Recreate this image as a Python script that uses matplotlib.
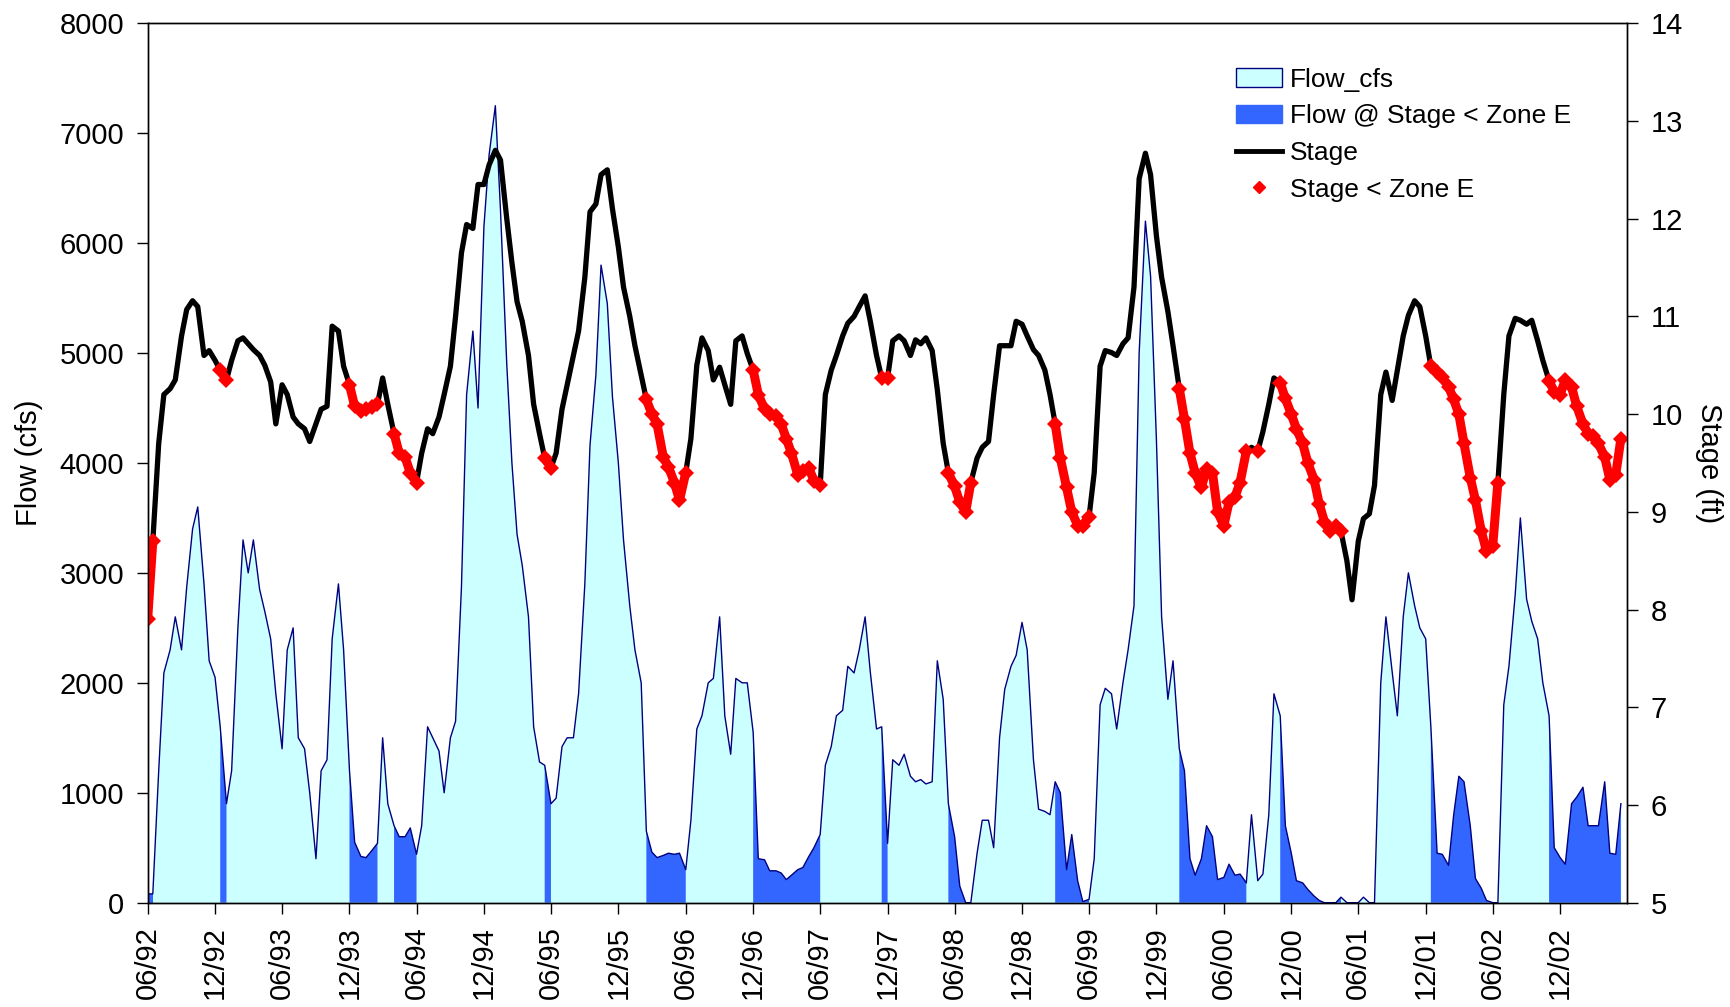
import numpy as np
import pandas as pd
import matplotlib
matplotlib.use("Agg")
import matplotlib.pyplot as plt
import matplotlib.dates as mdates
from matplotlib.patches import Patch
from matplotlib.lines import Line2D

plt.rcParams['font.family'] = ['Liberation Sans', 'DejaVu Sans']

# semi-monthly sampling dates (1st and 15th of each month), Jun 1992 - May 2003
dates = pd.date_range('1992-06-01', periods=264, freq='SMS')

# Flow (cfs), one list per Jun-May year
flow_92 = [80, 80, 1200, 2090, 2300, 2600, 2300, 2870, 3400, 3600, 2900, 2200,
           2050, 1600, 900, 1200, 2500, 3300, 3000, 3300, 2850, 2650, 2400, 1900]
flow_93 = [1400, 2300, 2500, 1500, 1400, 1000, 400, 1200, 1300, 2400, 2900, 2300,
           1200, 550, 420, 410, 480, 540, 1500, 900, 700, 600, 600, 680]
flow_94 = [440, 700, 1600, 1500, 1380, 1000, 1500, 1650, 2870, 4620, 5200, 4500,
           6150, 6800, 7250, 6300, 4900, 4000, 3350, 3070, 2600, 1600, 1280, 1250]
flow_95 = [900, 950, 1420, 1500, 1500, 1900, 2900, 4160, 4800, 5800, 5450, 4600,
           4000, 3300, 2700, 2300, 2000, 650, 460, 410, 430, 450, 440, 450]
flow_96 = [300, 750, 1580, 1700, 2000, 2040, 2600, 1700, 1350, 2040, 2000, 2000,
           1550, 400, 390, 290, 290, 270, 210, 250, 300, 320, 420, 500]
flow_97 = [620, 1250, 1420, 1700, 1750, 2150, 2090, 2300, 2600, 2100, 1580, 1600,
           540, 1300, 1250, 1350, 1150, 1100, 1120, 1080, 1100, 2200, 1850, 900]
flow_98 = [600, 150, 0, 0, 450, 750, 750, 500, 1500, 1940, 2150, 2250,
           2550, 2300, 1300, 850, 830, 800, 1100, 1000, 300, 620, 200, 10]
flow_99 = [30, 400, 1800, 1950, 1900, 1580, 2000, 2300, 2700, 5000, 6200, 5700,
           4200, 2600, 1850, 2200, 1400, 1200, 400, 250, 400, 700, 600, 210]
flow_00 = [230, 350, 250, 260, 180, 800, 200, 260, 800, 1900, 1700, 700,
           450, 200, 180, 120, 60, 20, 0, 0, 0, 50, 0, 0]
flow_01 = [0, 50, 0, 0, 2000, 2600, 2100, 1700, 2600, 3000, 2700, 2500,
           2400, 1600, 450, 440, 340, 800, 1150, 1100, 700, 220, 130, 20]
flow_02 = [0, 0, 1800, 2150, 2800, 3500, 2760, 2560, 2400, 2000, 1700, 500,
           410, 350, 900, 960, 1050, 700, 700, 700, 1100, 450, 440, 900]

# Stage (ft)
stage_92 = [7.9, 8.7, 9.7, 10.2, 10.26, 10.35, 10.8, 11.07, 11.16, 11.1, 10.6, 10.65,
            10.55, 10.45, 10.35, 10.55, 10.75, 10.78, 10.72, 10.66, 10.6, 10.5, 10.33, 9.9]
stage_93 = [10.3, 10.2, 9.97, 9.9, 9.85, 9.72, 9.9, 10.05, 10.08, 10.9, 10.85, 10.49,
            10.3, 10.08, 10.03, 10.05, 10.07, 10.1, 10.37, 10.1, 9.8, 9.6, 9.56, 9.4]
stage_94 = [9.3, 9.6, 9.85, 9.8, 9.97, 10.2, 10.49, 11.0, 11.65, 11.94, 11.9, 12.35,
            12.35, 12.55, 12.7, 12.6, 12.0, 11.55, 11.15, 10.95, 10.6, 10.1, 9.8, 9.55]
stage_95 = [9.45, 9.6, 10.05, 10.3, 10.6, 10.85, 11.4, 12.07, 12.15, 12.45, 12.5, 12.1,
            11.71, 11.3, 11.0, 10.7, 10.4, 10.15, 10.0, 9.9, 9.56, 9.46, 9.3, 9.12]
stage_96 = [9.4, 9.75, 10.5, 10.78, 10.65, 10.35, 10.48, 10.3, 10.1, 10.75, 10.8, 10.62,
            10.45, 10.2, 10.05, 10.0, 9.98, 9.9, 9.75, 9.6, 9.38, 9.42, 9.45, 9.32]
stage_97 = [9.27, 10.2, 10.45, 10.6, 10.8, 10.93, 11.0, 11.1, 11.21, 10.95, 10.6, 10.37,
            10.37, 10.75, 10.8, 10.75, 10.6, 10.76, 10.72, 10.78, 10.65, 10.25, 9.7, 9.4]
stage_98 = [9.26, 9.1, 9.0, 9.3, 9.55, 9.66, 9.72, 10.2, 10.7, 10.7, 10.7, 10.95,
            10.92, 10.8, 10.66, 10.6, 10.45, 10.2, 9.9, 9.55, 9.25, 9.0, 8.86, 8.86]
stage_99 = [8.95, 9.4, 10.49, 10.65, 10.63, 10.6, 10.72, 10.78, 11.3, 12.41, 12.67, 12.45,
            11.82, 11.4, 11.05, 10.7, 10.26, 9.95, 9.6, 9.4, 9.25, 9.44, 9.4, 9.0]
stage_00 = [8.86, 9.1, 9.15, 9.3, 9.62, 9.66, 9.62, 9.82, 10.1, 10.37, 10.32, 10.16,
            10.0, 9.85, 9.7, 9.5, 9.33, 9.08, 8.9, 8.8, 8.86, 8.8, 8.5, 8.1]
stage_01 = [8.7, 8.93, 8.98, 9.27, 10.2, 10.43, 10.14, 10.45, 10.8, 11.01, 11.16, 11.1,
            10.8, 10.49, 10.43, 10.38, 10.28, 10.15, 10.0, 9.7, 9.35, 9.12, 8.8, 8.6]
stage_02 = [8.65, 9.3, 10.2, 10.8, 10.98, 10.96, 10.92, 10.96, 10.75, 10.55, 10.34, 10.23,
            10.2, 10.35, 10.28, 10.08, 9.9, 9.8, 9.78, 9.7, 9.56, 9.33, 9.38, 9.75]

# Periods when stage was below Zone E
below_zone_e = [
    ('1992-06-01', '1992-06-23'), ('1992-12-15', '1993-01-11'),
    ('1993-11-23', '1994-02-18'), ('1994-03-18', '1994-06-06'),
    ('1995-05-10', '1995-06-06'), ('1996-02-10', '1996-06-01'),
    ('1996-11-28', '1997-06-06'), ('1997-11-10', '1997-12-06'),
    ('1998-05-07', '1998-07-15'), ('1999-02-20', '1999-06-12'),
    ('2000-02-01', '2000-08-06'), ('2000-08-27', '2000-09-03'),
    ('2000-11-01', '2001-04-25'), ('2001-12-15', '2002-06-19'),
    ('2002-11-01', '2003-05-31'),
]

flow = np.array(flow_92 + flow_93 + flow_94 + flow_95 + flow_96 + flow_97 +
                flow_98 + flow_99 + flow_00 + flow_01 + flow_02, dtype=float)
stage = np.array(stage_92 + stage_93 + stage_94 + stage_95 + stage_96 + stage_97 +
                 stage_98 + stage_99 + stage_00 + stage_01 + stage_02, dtype=float)
mask = np.zeros(len(dates), dtype=bool)
for s, e in below_zone_e:
    mask |= (dates >= pd.Timestamp(s)) & (dates <= pd.Timestamp(e))

CYAN = '#CCFFFF'
BLUE = '#3366FF'
NAVY = '#000080'
TICK_FS = 21
LEG_FS = 19

fig = plt.figure(figsize=(17.31, 10.07), dpi=100)
ax = fig.add_axes([0.0853, 0.1036, 0.8545, 0.8733])
ax.fill_between(dates, 0, flow, color=CYAN, lw=0)
ax.fill_between(dates, 0, flow, where=mask, color=BLUE, lw=0)
ax.plot(dates, flow, color=NAVY, lw=1.0)
ax.set_ylim(0, 8000)
ax.set_yticks(np.arange(0, 8001, 1000))
ax.set_xlim(pd.Timestamp('1992-06-01'), pd.Timestamp('2003-05-31'))
ax.xaxis.set_major_locator(mdates.MonthLocator(bymonth=[6, 12]))
ax.xaxis.set_major_formatter(mdates.DateFormatter('%m/%y'))
ax.tick_params(axis='x', direction='out', length=8, width=1, labelsize=TICK_FS,
               labelrotation=90, pad=9)
ax.tick_params(axis='y', direction='out', length=8, width=1, labelsize=TICK_FS, pad=9)
ax.set_ylabel('Flow (cfs)', fontsize=TICK_FS, va='center')
ax.yaxis.set_label_coords(-0.080, 0.5)

ax2 = ax.twinx()
ax2.plot(dates, stage, color='black', lw=3.8, solid_joinstyle='round')
red_stage = np.where(mask, stage, np.nan)
ax2.plot(dates, red_stage, color='red', lw=6.5, marker='D', markersize=8,
         markeredgewidth=0, solid_capstyle='round')
ax2.set_ylim(5, 14)
ax2.set_yticks(np.arange(5, 15, 1))
ax2.tick_params(axis='y', direction='out', length=8, width=1, labelsize=TICK_FS, pad=9)
ax2.set_ylabel('Stage (ft)', fontsize=TICK_FS, rotation=270, va='center')
ax2.yaxis.set_label_coords(1.0556, 0.5)

for a in (ax, ax2):
    for sp in a.spines.values():
        sp.set_color('black')
        sp.set_linewidth(1.0)

handles = [
    Patch(facecolor=CYAN, edgecolor=NAVY, linewidth=1),
    Patch(facecolor=BLUE, edgecolor=BLUE),
    Line2D([], [], color='black', lw=3.5),
    Line2D([], [], color='red', marker='D', markersize=6, linestyle='none'),
]
labels = ['Flow_cfs', 'Flow @ Stage < Zone E', 'Stage', 'Stage < Zone E']
fig.legend(handles, labels, loc='upper left', bbox_to_anchor=(1225 / 1731, 1 - 57 / 1007),
           frameon=False, fontsize=LEG_FS, handlelength=1.75, handleheight=0.7,
           handletextpad=0.3, labelspacing=0.48, borderaxespad=0)

fig.savefig('out.png', dpi=100)
